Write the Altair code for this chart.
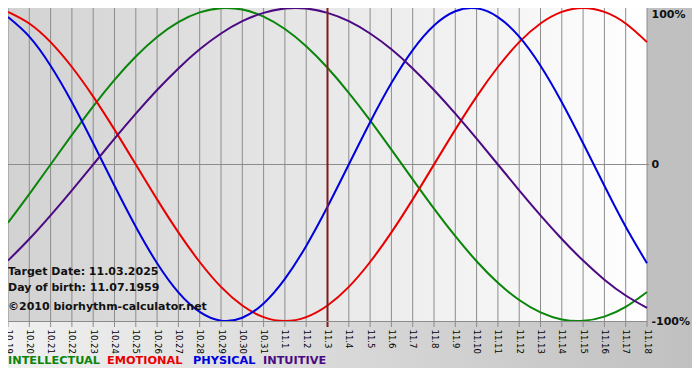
import altair as alt
import pandas as pd

dates = ["10.19", "10.20", "10.21", "10.22", "10.23", "10.24", "10.25", "10.26", "10.27",
         "10.28", "10.29", "10.30", "10.31", "11.1", "11.2", "11.3", "11.4", "11.5", "11.6",
         "11.7", "11.8", "11.9", "11.10", "11.11", "11.12", "11.13", "11.14", "11.15",
         "11.16", "11.17", "11.18"]

intellectual = [-0.372, -0.189, 0.000, 0.189, 0.372, 0.541, 0.690, 0.815, 0.910, 0.972, 0.999,
                0.990, 0.945, 0.866, 0.756, 0.618, 0.458, 0.282, 0.095, -0.095, -0.282, -0.458,
                -0.618, -0.756, -0.866, -0.945, -0.990, -0.999, -0.972, -0.910, -0.815]
emotional = [0.975, 0.901, 0.782, 0.623, 0.434, 0.223, 0.000, -0.223, -0.434, -0.623, -0.782,
             -0.901, -0.975, -1.000, -0.975, -0.901, -0.782, -0.623, -0.434, -0.223, 0.000,
             0.223, 0.434, 0.623, 0.782, 0.901, 0.975, 1.000, 0.975, 0.901, 0.782]
physical = [0.942, 0.817, 0.631, 0.398, 0.136, -0.136, -0.398, -0.631, -0.817, -0.942, -0.998,
            -0.979, -0.888, -0.731, -0.520, -0.270, 0.000, 0.270, 0.520, 0.731, 0.888, 0.979,
            0.998, 0.942, 0.817, 0.631, 0.398, 0.136, -0.136, -0.398, -0.631]
intuitive = [-0.614, -0.476, -0.325, -0.165, 0.000, 0.165, 0.325, 0.476, 0.614, 0.736, 0.837,
             0.916, 0.969, 0.997, 0.997, 0.969, 0.916, 0.837, 0.736, 0.614, 0.476, 0.325, 0.165,
             0.000, -0.165, -0.325, -0.476, -0.614, -0.736, -0.837, -0.916]

series_names = ["INTELLECTUAL", "EMOTIONAL", "PHYSICAL", "INTUITIVE"]
series_colors = ["#0a850a", "#e80000", "#0000dd", "#4b0a82"]

y_tick_values = [1, 0, -1]
y_tick_labels = ["100%", "0", "-100%"]

target_label = "11.3"
info_lines = ["Target Date: 11.03.2025", "Day of birth: 11.07.1959", "\u00a92010 biorhythm-calculator.net"]

# ---- layout ----
W, H = 639, 313
PR, PB = 45, 51
FONT = "DejaVu Sans"

rows = []
for name, vals in zip(series_names, [intellectual, emotional, physical, intuitive]):
    for d, v in zip(dates, vals):
        rows.append({"date": d, "value": v, "series": name})
df = pd.DataFrame(rows)
one = pd.DataFrame({"k": [0]})

xscale = alt.Scale(type="point", padding=0, domain=dates)
yscale = alt.Scale(domain=[-1, 1], nice=False, zero=False)

label_expr = " : ".join(
    [f"datum.value == {v} ? '{l}'" for v, l in zip(y_tick_values[:-1], y_tick_labels[:-1])]
) + f" : '{y_tick_labels[-1]}'"

xaxis = alt.Axis(title=None, labelAngle=90, labelFont=FONT, labelFontSize=8.5, labelColor="#000000",
                 ticks=False, domain=True, domainColor="#8c8c8c", labelPadding=8,
                 labelOverlap=False, labelFlush=False, labelBound=False, grid=False, zindex=1)
yaxis = alt.Axis(orient="right", title=None, values=y_tick_values, labelExpr=label_expr,
                 ticks=False, domain=False, grid=False, labelFont=FONT, labelFontSize=11,
                 labelFontWeight="bold", labelColor="#111111", labelPadding=4,
                 labelBaseline={"expr": "datum.value == 1 ? 'top' : 'middle'"},
                 labelFlush=False, labelBound=False, labelOverlap=False, zindex=1)

band = alt.Chart(one).mark_rect(
    fill=alt.Gradient(gradient="linear",
                      stops=[alt.GradientStop(color="#f0f0f0", offset=0),
                             alt.GradientStop(color="#c0c0c0", offset=1)],
                      x1=0, x2=1, y1=0, y2=0)
).encode(x=alt.value(0), x2=alt.value(W + PR), y=alt.value(H), y2=alt.value(H + 47))

right_margin = alt.Chart(one).mark_rect(fill="#c0c0c0").encode(
    x=alt.value(W), x2=alt.value(W + PR), y=alt.value(0), y2=alt.value(H))

plot_bg = alt.Chart(one).mark_rect(
    fill=alt.Gradient(gradient="linear",
                      stops=[alt.GradientStop(color="#d2d2d2", offset=0),
                             alt.GradientStop(color="#ffffff", offset=1)],
                      x1=0, x2=1, y1=0, y2=0)
).encode(x=alt.value(0), x2=alt.value(W), y=alt.value(0), y2=alt.value(H))

X = alt.X("date:O", scale=xscale, axis=xaxis, sort=dates)

grid = alt.Chart(pd.DataFrame({"date": dates})).mark_rule(color="#8c8c8c", strokeWidth=1).encode(
    x=X, y=alt.value(0), y2=alt.value(H + 6))

zero = alt.Chart(one).mark_rule(color="#8c8c8c", strokeWidth=1).encode(
    y=alt.YDatum(0, type="quantitative", scale=yscale, axis=yaxis),
    x=alt.value(0), x2=alt.value(W + 2))

lines = alt.Chart(df).mark_line(strokeWidth=2, interpolate="natural").encode(
    x=X,
    y=alt.Y("value:Q", scale=yscale, axis=yaxis),
    color=alt.Color("series:N", scale=alt.Scale(domain=series_names, range=series_colors), legend=None),
)

target = alt.Chart(one).mark_rule(color="#801c1c", strokeWidth=2).encode(
    x=alt.XDatum(target_label, type="ordinal", scale=xscale, axis=xaxis),
    y=alt.value(0), y2=alt.value(H + 6))

info_y = [264, 280, 299]
info_layers = [
    alt.Chart(one).mark_text(align="left", baseline="middle", font=FONT, fontSize=11,
                             fontWeight="bold", color="#111111").encode(
        x=alt.value(0), y=alt.value(yy), text=alt.value(t))
    for t, yy in zip(info_lines, info_y)
]

legend_x = [0, 99, 185, 255]
legend_layers = [
    alt.Chart(one).mark_text(align="left", baseline="middle", font=FONT, fontSize=11.3,
                             fontWeight="bold", color=c).encode(
        x=alt.value(xx), y=alt.value(H + 40), text=alt.value(n))
    for n, c, xx in zip(series_names, series_colors, legend_x)
]

chart = alt.layer(
    band, right_margin, plot_bg, grid, zero, lines, target, *info_layers, *legend_layers
).properties(
    width=W, height=H,
    padding={"left": 0, "top": 0, "right": PR, "bottom": PB},
    autosize=alt.AutoSizeParams(type="none"),
    background="#ffffff",
).configure_view(strokeWidth=0)

chart.save("out.html", embed_options={"renderer": "svg", "actions": False})
